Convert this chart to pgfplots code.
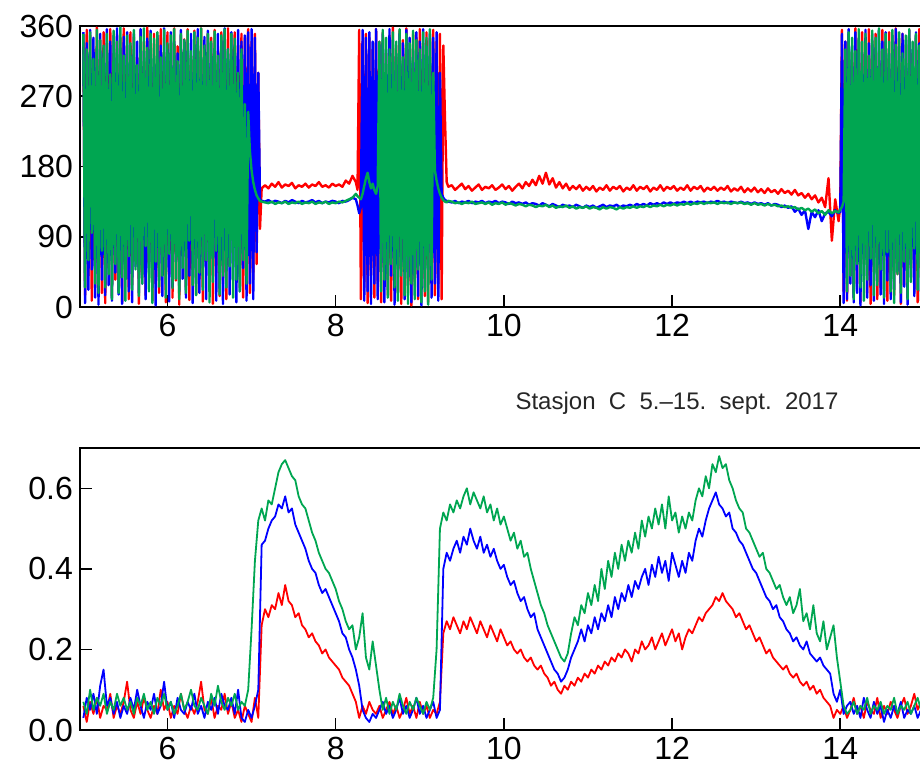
\documentclass[border=0pt]{standalone}
\usepackage{pgfplots}
\pgfplotsset{compat=1.18}
\usepackage{pgfplotstable}
\usepackage{fontspec}
\setmainfont{Liberation Sans}
\definecolor{cr}{RGB}{255,0,0}
\definecolor{cb}{RGB}{0,0,255}
\definecolor{cg}{RGB}{0,166,81}
\pgfplotstableread{
x r b g
5.00 340 352 350
5.02 15 5 25
5.04 355 338 330
5.06 40 22 60
5.08 348 355 352
5.10 8 48 95
5.12 330 345 318
5.14 25 12 30
5.16 358 330 355
5.18 60 3 18
5.20 342 350 342
5.22 18 35 72
5.24 352 325 335
5.26 5 15 25
5.28 338 356 350
5.30 50 28 42
5.32 356 340 298
5.34 12 8 10
5.36 325 348 354
5.38 35 44 55
5.40 350 357 340
5.42 20 16 18
5.44 345 332 358
5.46 6 4 38
5.48 357 346 322
5.50 45 38 8
5.52 335 352 348
5.54 10 20 65
5.56 352 322 338
5.58 28 6 22
5.60 346 350 355
5.62 70 52 48
5.64 320 340 310
5.66 4 18 14
5.68 355 356 346
5.70 38 30 30
5.72 340 328 357
5.74 15 10 78
5.76 358 344 332
5.78 55 42 20
5.80 330 354 350
5.82 8 25 5
5.84 350 318 344
5.86 30 2 58
5.88 344 348 352
5.90 18 34 26
5.92 356 335 320
5.94 62 14 40
5.96 326 357 355
5.98 6 48 12
6.00 352 330 338
6.02 42 7 68
6.04 338 352 348
6.06 12 26 24
6.08 357 340 356
6.10 34 58 36
6.12 334 325 315
6.14 3 20 10
6.16 348 355 350
6.18 66 36 50
6.20 343 342 342
6.22 22 12 18
6.24 356 328 354
6.26 9 40 85
6.28 322 350 328
6.30 48 5 28
6.32 354 336 352
6.34 16 30 15
6.36 340 356 345
6.38 36 18 44
6.40 357 320 357
6.42 7 50 22
6.44 336 346 335
6.46 58 10 60
6.48 350 354 350
6.50 20 28 6
6.52 345 338 340
6.54 4 62 32
6.56 355 326 353
6.58 44 8 72
6.60 328 350 322
6.62 14 24 16
6.64 352 342 348
6.66 30 4 40
6.68 341 357 356
6.70 10 46 25
6.72 357 330 330
6.74 52 16 52
6.76 330 352 350
6.78 246 34 12
6.80 352 336 344
6.82 60 6 35
6.84 335 355 300
6.86 25 20 20
6.88 350 340 330
6.90 12 50 60
6.92 345 348 260
6.94 40 8 30
6.96 356 352 250
6.98 18 30 200
7.00 340 356 175
7.02 35 10 160
7.04 350 345 150
7.06 55 70 143
7.08 300 300 139
7.10 100 138 136
7.12 152 136 135
7.16 156 135 134
7.20 152 137 133
7.24 158 134 135
7.28 154 136 132
7.32 160 135 134
7.36 153 133 133
7.40 157 136 135
7.44 155 134 132
7.48 159 137 134
7.52 152 135 133
7.56 156 133 135
7.60 154 136 132
7.64 158 134 134
7.68 153 135 133
7.72 157 137 135
7.76 155 134 132
7.80 160 136 134
7.84 154 133 133
7.88 156 135 135
7.92 153 134 132
7.96 158 136 134
8.00 155 135 133
8.04 157 133 135
8.08 154 136 134
8.12 162 135 136
8.16 158 137 138
8.20 168 140 140
8.24 160 138 145
8.26 150 130 142
8.28 355 120 140
8.30 10 128 138
8.32 340 355 145
8.34 25 8 155
8.36 350 345 165
8.38 5 20 172
8.40 345 352 160
8.42 40 4 152
8.44 330 340 158
8.46 12 30 150
8.48 356 356 145
8.50 30 10 155
8.52 340 336 340
8.54 6 45 20
8.56 352 350 355
8.58 50 6 35
8.60 325 330 345
8.62 15 22 12
8.64 348 356 330
8.66 8 40 55
8.68 358 342 352
8.70 35 3 25
8.72 335 325 340
8.74 20 18 8
8.76 354 350 356
8.78 4 52 40
8.80 342 338 320
8.82 45 10 15
8.84 357 355 350
8.86 18 28 4
8.88 330 345 338
8.90 2 6 30
8.92 350 330 354
8.94 28 36 10
8.96 345 352 342
8.98 10 14 48
9.00 356 340 330
9.02 40 2 6
9.04 338 356 352
9.06 14 25 20
9.08 352 334 345
9.10 6 48 3
9.12 344 350 356
9.14 30 12 35
9.16 355 345 300
9.18 15 30 175
9.20 340 352 162
9.22 24 8 152
9.24 350 300 145
9.26 10 145 140
9.28 335 140 137
9.30 240 137 135
9.32 160 136 134
9.34 154 135 136
9.38 156 134 135
9.42 150 136 133
9.46 154 133 134
9.50 158 135 132
9.54 151 134 134
9.58 155 136 133
9.62 149 133 135
9.66 153 135 132
9.70 157 134 133
9.74 150 136 134
9.78 154 133 132
9.82 152 135 134
9.86 156 134 131
9.90 150 136 133
9.94 153 133 132
9.98 157 135 134
10.02 151 134 131
10.06 155 132 133
10.10 149 135 132
10.14 154 133 130
10.18 158 134 132
10.22 152 132 131
10.26 160 134 129
10.30 155 131 131
10.34 163 133 130
10.38 156 132 128
10.42 168 130 130
10.46 158 133 129
10.50 172 131 131
10.54 157 129 128
10.58 165 132 130
10.62 153 130 127
10.66 160 128 129
10.70 152 131 128
10.74 158 129 130
10.78 150 130 127
10.82 155 128 129
10.86 151 131 126
10.90 156 129 128
10.94 149 127 127
10.98 154 130 129
11.02 150 128 126
11.06 155 130 128
11.10 148 127 127
11.14 153 129 125
11.18 150 131 128
11.22 156 128 126
11.26 149 130 128
11.30 154 129 127
11.34 151 131 125
11.38 155 128 128
11.42 148 130 126
11.46 153 129 128
11.50 150 131 127
11.54 156 129 129
11.58 149 132 127
11.62 154 130 129
11.66 151 132 128
11.70 155 130 130
11.74 148 133 128
11.78 153 131 130
11.82 150 133 129
11.86 156 131 131
11.90 149 134 129
11.94 154 132 131
11.98 151 134 130
12.02 155 132 132
12.06 149 134 130
12.10 153 133 132
12.14 150 135 131
12.18 156 133 133
12.22 149 135 131
12.26 154 133 133
12.30 151 135 132
12.34 155 134 134
12.38 148 135 132
12.42 153 133 134
12.46 150 135 133
12.50 154 134 134
12.54 149 136 132
12.58 153 134 134
12.62 150 135 133
12.66 155 133 134
12.70 148 135 132
12.74 152 134 134
12.78 149 133 133
12.82 154 135 134
12.86 147 133 132
12.90 152 134 133
12.94 148 132 131
12.98 153 134 133
13.02 147 132 131
13.06 151 133 132
13.10 146 131 130
13.14 152 133 132
13.18 147 130 130
13.22 150 132 131
13.26 145 131 129
13.30 151 128 130
13.34 146 130 128
13.38 149 127 129
13.42 144 129 127
13.46 150 122 128
13.50 143 126 125
13.54 146 118 127
13.58 140 124 124
13.62 145 100 126
13.66 138 122 122
13.70 143 115 125
13.74 134 124 120
13.78 140 110 123
13.82 128 120 118
13.86 165 122 124
13.90 85 116 120
13.94 138 124 123
13.98 110 120 121
14.00 130 122 125
14.02 355 350 128
14.04 20 5 135
14.06 340 340 330
14.08 8 10 20
14.10 350 356 352
14.12 40 30 40
14.14 326 335 345
14.16 12 6 10
14.18 357 352 328
14.20 30 18 55
14.22 345 344 356
14.24 6 2 25
14.26 352 326 340
14.28 55 40 8
14.30 335 355 350
14.32 18 12 35
14.34 356 338 322
14.36 4 28 62
14.38 342 350 354
14.40 45 8 15
14.42 350 332 345
14.44 10 50 28
14.46 328 356 357
14.48 25 16 48
14.50 355 340 330
14.52 60 4 12
14.54 340 352 350
14.56 8 34 70
14.58 352 325 340
14.60 35 10 20
14.62 330 348 355
14.64 15 22 5
14.66 357 356 336
14.68 42 46 42
14.70 344 334 352
14.72 4 6 18
14.74 350 350 325
14.76 28 26 58
14.78 336 342 348
14.80 12 3 10
14.82 355 354 356
14.84 50 38 32
14.86 325 330 340
14.88 20 14 75
14.90 348 352 350
14.92 6 55 22
14.94 356 338 335
14.96 38 8 8
14.98 342 346 354
15.00 15 20 40
}\dirdata
\pgfplotstableread{
x r b g
5.00 0.06 0.03 0.07
5.04 0.02 0.08 0.04
5.08 0.07 0.05 0.10
5.12 0.04 0.09 0.05
5.16 0.08 0.04 0.08
5.20 0.03 0.11 0.06
5.24 0.06 0.15 0.09
5.28 0.05 0.06 0.04
5.32 0.09 0.08 0.07
5.36 0.03 0.04 0.05
5.40 0.06 0.07 0.09
5.44 0.04 0.03 0.06
5.48 0.07 0.06 0.08
5.52 0.12 0.04 0.05
5.56 0.05 0.08 0.07
5.60 0.03 0.05 0.04
5.64 0.07 0.10 0.08
5.68 0.04 0.06 0.06
5.72 0.08 0.03 0.09
5.76 0.05 0.07 0.05
5.80 0.03 0.05 0.07
5.84 0.06 0.09 0.04
5.88 0.04 0.04 0.08
5.92 0.10 0.06 0.06
5.96 0.05 0.12 0.09
6.00 0.07 0.05 0.05
6.04 0.03 0.07 0.07
6.08 0.06 0.03 0.04
6.12 0.04 0.08 0.06
6.16 0.09 0.05 0.09
6.20 0.05 0.04 0.05
6.24 0.03 0.07 0.07
6.28 0.06 0.05 0.10
6.32 0.04 0.09 0.06
6.36 0.07 0.04 0.05
6.40 0.12 0.06 0.08
6.44 0.05 0.03 0.06
6.48 0.04 0.07 0.04
6.52 0.08 0.05 0.09
6.56 0.03 0.08 0.06
6.60 0.06 0.04 0.11
6.64 0.05 0.09 0.07
6.68 0.09 0.06 0.05
6.72 0.04 0.05 0.08
6.76 0.07 0.08 0.06
6.80 0.03 0.04 0.09
6.84 0.05 0.10 0.05
6.88 0.02 0.03 0.07
6.92 0.06 0.02 0.06
6.96 0.04 0.05 0.10
7.00 0.02 0.03 0.25
7.04 0.08 0.06 0.42
7.08 0.03 0.10 0.52
7.12 0.26 0.46 0.55
7.16 0.30 0.47 0.52
7.20 0.28 0.50 0.57
7.24 0.31 0.52 0.56
7.28 0.30 0.53 0.60
7.32 0.34 0.56 0.64
7.36 0.31 0.55 0.66
7.40 0.36 0.58 0.67
7.44 0.32 0.54 0.65
7.48 0.31 0.55 0.63
7.52 0.28 0.51 0.62
7.56 0.29 0.49 0.58
7.60 0.26 0.47 0.56
7.64 0.25 0.45 0.55
7.68 0.23 0.42 0.52
7.72 0.24 0.40 0.49
7.76 0.22 0.39 0.47
7.80 0.21 0.36 0.44
7.84 0.19 0.34 0.42
7.88 0.20 0.35 0.40
7.92 0.18 0.33 0.39
7.96 0.17 0.31 0.37
8.00 0.16 0.29 0.35
8.04 0.15 0.27 0.32
8.08 0.13 0.24 0.30
8.12 0.12 0.23 0.27
8.16 0.11 0.20 0.25
8.20 0.09 0.18 0.26
8.24 0.07 0.15 0.20
8.28 0.03 0.11 0.23
8.32 0.06 0.05 0.29
8.36 0.04 0.03 0.18
8.40 0.07 0.02 0.15
8.44 0.05 0.04 0.22
8.48 0.04 0.03 0.16
8.52 0.06 0.05 0.10
8.56 0.03 0.07 0.05
8.60 0.05 0.04 0.08
8.64 0.07 0.06 0.04
8.68 0.04 0.03 0.07
8.72 0.06 0.05 0.05
8.76 0.03 0.08 0.09
8.80 0.05 0.04 0.06
8.84 0.08 0.06 0.04
8.88 0.04 0.03 0.07
8.92 0.06 0.05 0.05
8.96 0.03 0.08 0.08
9.00 0.07 0.04 0.06
9.04 0.04 0.06 0.04
9.08 0.06 0.03 0.07
9.12 0.03 0.05 0.05
9.16 0.05 0.07 0.08
9.20 0.04 0.03 0.20
9.24 0.07 0.05 0.50
9.28 0.24 0.40 0.54
9.32 0.27 0.44 0.52
9.36 0.25 0.42 0.56
9.40 0.28 0.45 0.54
9.44 0.26 0.47 0.57
9.48 0.24 0.44 0.55
9.52 0.27 0.48 0.58
9.56 0.25 0.46 0.60
9.60 0.28 0.50 0.56
9.64 0.26 0.47 0.59
9.68 0.24 0.45 0.57
9.72 0.27 0.48 0.55
9.76 0.25 0.44 0.58
9.80 0.23 0.46 0.54
9.84 0.26 0.43 0.56
9.88 0.24 0.45 0.52
9.92 0.22 0.42 0.55
9.96 0.25 0.40 0.51
10.00 0.23 0.41 0.53
10.04 0.21 0.38 0.50
10.08 0.22 0.36 0.47
10.12 0.20 0.37 0.49
10.16 0.19 0.34 0.45
10.20 0.20 0.32 0.47
10.24 0.18 0.33 0.43
10.28 0.17 0.30 0.44
10.32 0.18 0.28 0.40
10.36 0.16 0.29 0.37
10.40 0.15 0.25 0.34
10.44 0.16 0.23 0.31
10.48 0.14 0.21 0.29
10.52 0.13 0.19 0.26
10.56 0.11 0.17 0.24
10.60 0.12 0.15 0.22
10.64 0.10 0.14 0.20
10.68 0.09 0.12 0.18
10.72 0.11 0.13 0.17
10.76 0.10 0.15 0.19
10.80 0.12 0.18 0.24
10.84 0.11 0.20 0.28
10.88 0.13 0.22 0.26
10.92 0.12 0.25 0.31
10.96 0.14 0.22 0.29
11.00 0.13 0.26 0.34
11.04 0.15 0.24 0.31
11.08 0.14 0.28 0.36
11.12 0.16 0.25 0.32
11.16 0.15 0.29 0.40
11.20 0.17 0.27 0.35
11.24 0.16 0.31 0.42
11.28 0.18 0.28 0.38
11.32 0.17 0.33 0.44
11.36 0.19 0.30 0.40
11.40 0.18 0.34 0.46
11.44 0.20 0.32 0.42
11.48 0.19 0.36 0.47
11.52 0.17 0.33 0.44
11.56 0.20 0.37 0.49
11.60 0.19 0.35 0.45
11.64 0.22 0.38 0.52
11.68 0.20 0.40 0.48
11.72 0.21 0.36 0.53
11.76 0.23 0.41 0.50
11.80 0.20 0.38 0.55
11.84 0.22 0.43 0.51
11.88 0.24 0.39 0.56
11.92 0.21 0.42 0.50
11.96 0.23 0.37 0.58
12.00 0.25 0.44 0.52
12.04 0.22 0.41 0.54
12.08 0.24 0.38 0.49
12.12 0.20 0.42 0.53
12.16 0.23 0.39 0.50
12.20 0.25 0.44 0.54
12.24 0.24 0.42 0.52
12.28 0.26 0.47 0.57
12.32 0.28 0.50 0.60
12.36 0.27 0.48 0.58
12.40 0.29 0.52 0.63
12.44 0.30 0.55 0.60
12.48 0.31 0.57 0.66
12.52 0.33 0.59 0.64
12.56 0.32 0.56 0.68
12.60 0.34 0.55 0.65
12.64 0.32 0.53 0.66
12.68 0.31 0.54 0.62
12.72 0.30 0.50 0.60
12.76 0.28 0.49 0.57
12.80 0.29 0.47 0.55
12.84 0.27 0.46 0.54
12.88 0.25 0.44 0.50
12.92 0.26 0.42 0.49
12.96 0.24 0.40 0.47
13.00 0.22 0.39 0.45
13.04 0.23 0.37 0.43
13.08 0.21 0.35 0.44
13.12 0.19 0.33 0.40
13.16 0.20 0.32 0.39
13.20 0.18 0.30 0.37
13.24 0.17 0.31 0.35
13.28 0.16 0.28 0.36
13.32 0.15 0.27 0.33
13.36 0.16 0.25 0.31
13.40 0.14 0.24 0.33
13.44 0.13 0.22 0.29
13.48 0.14 0.23 0.31
13.52 0.12 0.21 0.35
13.56 0.11 0.20 0.27
13.60 0.12 0.22 0.29
13.64 0.10 0.19 0.25
13.68 0.11 0.18 0.31
13.72 0.09 0.17 0.24
13.76 0.10 0.18 0.22
13.80 0.08 0.16 0.27
13.84 0.07 0.15 0.20
13.88 0.06 0.14 0.23
13.92 0.03 0.09 0.26
13.96 0.05 0.07 0.18
14.00 0.04 0.10 0.12
14.04 0.06 0.04 0.06
14.08 0.03 0.06 0.04
14.12 0.05 0.07 0.05
14.16 0.08 0.04 0.07
14.20 0.04 0.06 0.04
14.24 0.06 0.03 0.06
14.28 0.03 0.08 0.05
14.32 0.07 0.05 0.08
14.36 0.05 0.03 0.04
14.40 0.04 0.07 0.06
14.44 0.08 0.04 0.05
14.48 0.03 0.06 0.07
14.52 0.06 0.02 0.04
14.56 0.04 0.05 0.06
14.60 0.07 0.03 0.05
14.64 0.05 0.06 0.08
14.68 0.03 0.04 0.04
14.72 0.06 0.07 0.06
14.76 0.08 0.03 0.05
14.80 0.04 0.05 0.07
14.84 0.06 0.04 0.04
14.88 0.09 0.06 0.06
14.92 0.05 0.03 0.08
14.96 0.07 0.05 0.05
15.00 0.04 0.08 0.09
}\spddata
\begin{document}
\begin{tikzpicture}
\pgfplotsset{
  base/.style={
    scale only axis, width=462.55pt,
    xmin=4.96, xmax=15.96, xtick={6,8,10,12,14},
    xtick pos=bottom, ytick pos=left, tick align=inside,
    major tick length=6pt,
    axis line style={line width=1pt},
    every tick/.style={black, line width=0.8pt},
    tick label style={font=\fontsize{16}{19}\selectfont},
    /pgf/number format/assume math mode=true,
    anchor=south west, clip=true,
  }
}
\begin{axis}[base, at={(40pt,235.5pt)}, height=140.5pt,
  ymin=0, ymax=360, ytick={0,90,180,270,360},
  every axis plot/.append style={line width=1.2pt, line join=round, no markers}]
\addplot[cr] table[x=x,y=r]{\dirdata};
\addplot[cb] table[x=x,y=b]{\dirdata};
\addplot[cg] table[x=x,y=g]{\dirdata};
\end{axis}
\begin{axis}[base, at={(40pt,24pt)}, height=141pt,
  ymin=0, ymax=0.7, ytick={0,0.2,0.4,0.6},
  yticklabel style={/pgf/number format/.cd, fixed, fixed zerofill, precision=1},
  every axis plot/.append style={line width=0.9pt, line join=round, no markers}]
\addplot[cr] table[x=x,y=r]{\spddata};
\addplot[cb] table[x=x,y=b]{\spddata};
\addplot[cg] table[x=x,y=g]{\spddata};
\end{axis}
\node[font=\fontsize{12}{14}\selectfont, text=black!85] at (338.5pt,187.5pt) {Stasjon\ \ C\ \ 5.--15.\ \ sept.\ \ 2017};
\pgfresetboundingbox
\path[use as bounding box] (0,0) rectangle (460pt,389pt);
\end{tikzpicture}
\end{document}
